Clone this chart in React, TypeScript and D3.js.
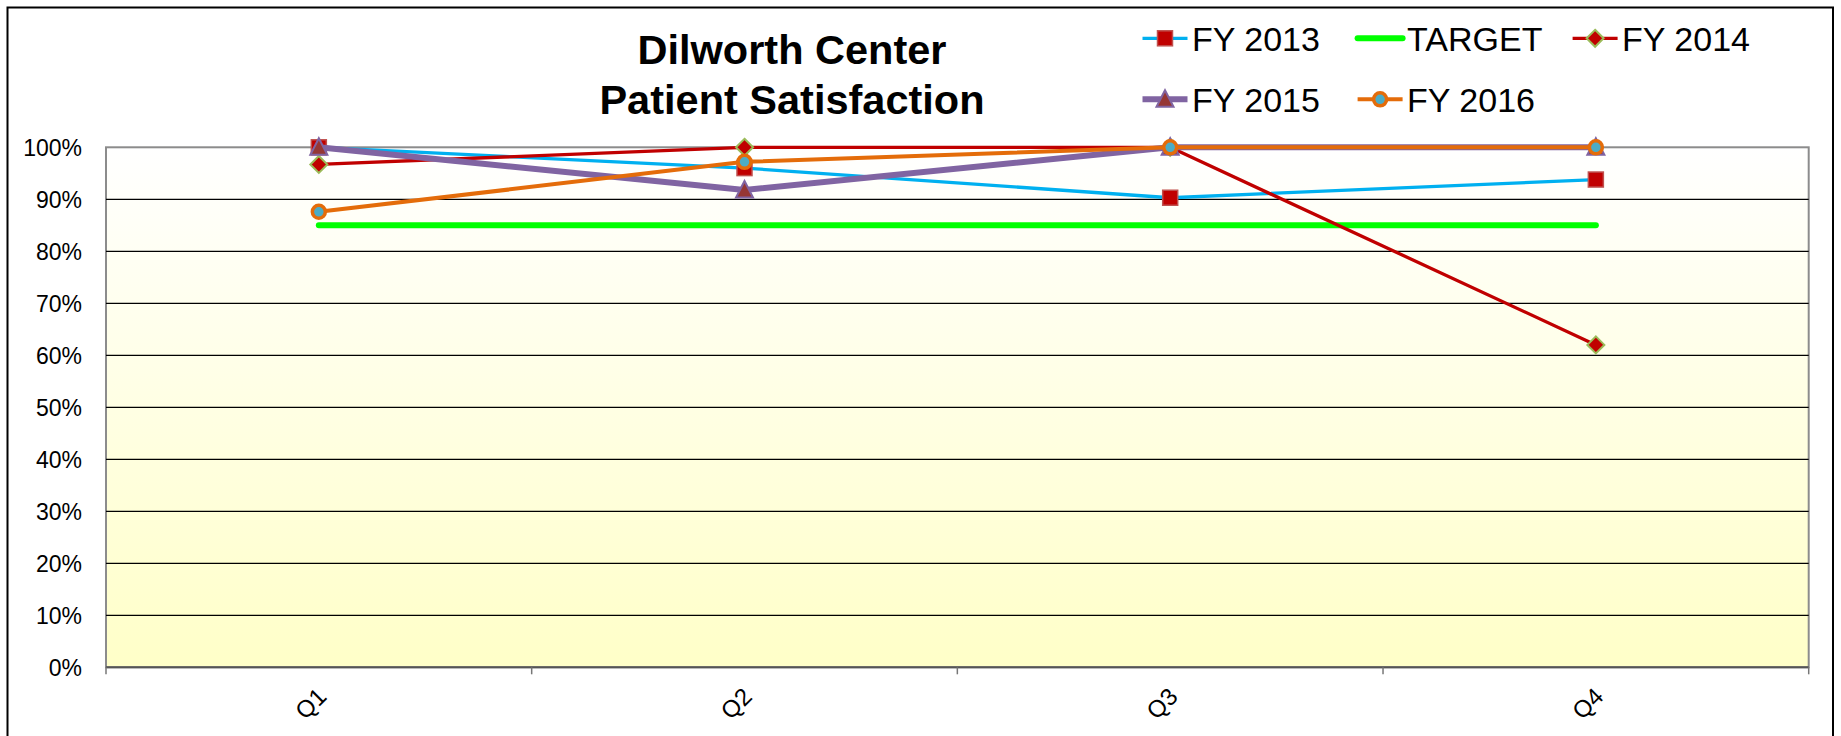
import React from "react";
import * as d3 from "d3";

const quarters = ["Q1", "Q2", "Q3", "Q4"];
const fy2013 = [1.0, 0.96, 0.903, 0.938];
const target = [0.85, 0.85, 0.85, 0.85];
const fy2014 = [0.967, 1.0, 1.0, 0.62];
const fy2015 = [1.0, 0.918, 1.0, 1.0];
const fy2016 = [0.876, 0.972, 1.0, 1.0];
const yTicks = [0, 0.1, 0.2, 0.3, 0.4, 0.5, 0.6, 0.7, 0.8, 0.9, 1.0];
const titleLines = ["Dilworth Center", "Patient Satisfaction"];

type MarkerKind = "square" | "diamond" | "triangle" | "circle" | "none";
interface Series {
  name: string;
  values: number[];
  color: string;
  width: number;
  marker: MarkerKind;
  mFill: string;
  mStroke: string;
  cap?: string;
}

const series: Series[] = [
  { name: "FY 2013", values: fy2013, color: "#00B0F0", width: 3.3, marker: "square", mFill: "#C00000", mStroke: "#C0504D" },
  { name: "TARGET", values: target, color: "#00FF00", width: 6, marker: "none", mFill: "none", mStroke: "none", cap: "round" },
  { name: "FY 2014", values: fy2014, color: "#C00000", width: 3.3, marker: "diamond", mFill: "#C00000", mStroke: "#9BBB59" },
  { name: "FY 2015", values: fy2015, color: "#8064A2", width: 6, marker: "triangle", mFill: "#953735", mStroke: "#8064A2" },
  { name: "FY 2016", values: fy2016, color: "#E46C0A", width: 4, marker: "circle", mFill: "#4BACC6", mStroke: "#E46C0A" },
];

const FONT = "'Liberation Sans', Arial, sans-serif";

function Marker({ kind, x, y, fill, stroke }: { kind: MarkerKind; x: number; y: number; fill: string; stroke: string }) {
  if (kind === "square") {
    return <rect x={x - 7.5} y={y - 7.5} width={15} height={15} fill={fill} stroke={stroke} strokeWidth={1.5} />;
  }
  if (kind === "diamond") {
    const r = 8.5;
    return <path d={`M${x},${y - r}L${x + r},${y}L${x},${y + r}L${x - r},${y}Z`} fill={fill} stroke={stroke} strokeWidth={2} />;
  }
  if (kind === "triangle") {
    return <path d={`M${x},${y - 9}L${x + 8.5},${y + 7.5}L${x - 8.5},${y + 7.5}Z`} fill={fill} stroke={stroke} strokeWidth={2} />;
  }
  if (kind === "circle") {
    return <circle cx={x} cy={y} r={6.5} fill={fill} stroke={stroke} strokeWidth={3.5} />;
  }
  return null;
}

export default function App() {
  const W = 1841;
  const H = 736;
  const left = 106;
  const right = 1808.7;
  const top = 147.3;
  const bottom = 667.3;

  const x = d3.scaleBand<string>().domain(quarters).range([left, right]).padding(0);
  const cx = (q: string) => (x(q) as number) + x.bandwidth() / 2;
  const y = d3.scaleLinear().domain([0, 1]).range([bottom, top]);
  const fmt = d3.format(".0%");
  const line = d3
    .line<number>()
    .x((_, i) => cx(quarters[i]))
    .y((v) => y(v));

  const boundaries = [...quarters.map((q) => x(q) as number), right];

  const legendCols = [1142.5, 1357.6, 1572.6];
  const legendRows = [38.3, 99.3];

  return (
    <svg
      width={W}
      height={H}
      style={{ position: "absolute", left: 0, top: 0, background: "#ffffff" }}
      fontFamily={FONT}
    >
      <defs>
        <linearGradient id="bg" x1="0" y1="0" x2="0" y2="1">
          <stop offset="0" stopColor="#FFFFFF" />
          <stop offset="1" stopColor="#FFFFC8" />
        </linearGradient>
      </defs>
      <rect x={7.5} y={7.5} width={1825.5} height={800} fill="#ffffff" stroke="#000" strokeWidth={2} />

      {/* plot area */}
      <rect x={left} y={top} width={right - left} height={bottom - top} fill="url(#bg)" stroke="#8C8C8C" strokeWidth={2} />
      {yTicks.map((t) =>
        t > 0 && t < 1 ? (
          <line key={"g" + t} x1={left} x2={right} y1={y(t)} y2={y(t)} stroke="#000" strokeWidth={1.2} />
        ) : null
      )}
      <line x1={left} x2={right} y1={bottom} y2={bottom} stroke="#555" strokeWidth={2} />
      {boundaries.map((b, i) => (
        <line key={"t" + i} x1={b} x2={b} y1={bottom} y2={bottom + 7} stroke="#777" strokeWidth={1.5} />
      ))}

      {/* y labels */}
      {yTicks.map((t) => (
        <text key={"yl" + t} x={82} y={y(t)} dy="0.36em" textAnchor="end" fontSize={23} fill="#000">
          {fmt(t)}
        </text>
      ))}

      {/* x labels */}
      {quarters.map((q) => (
        <text
          key={"xl" + q}
          transform={`translate(${cx(q) + 9},${698}) rotate(-45)`}
          textAnchor="end"
          fontSize={24}
          fill="#000"
        >
          {q}
        </text>
      ))}

      {/* series */}
      {series.map((s) => (
        <g key={s.name}>
          <path
            d={line(s.values) as string}
            fill="none"
            stroke={s.color}
            strokeWidth={s.width}
            strokeLinecap={(s.cap as any) || "butt"}
            strokeLinejoin="round"
          />
          {s.values.map((v, i) => (
            <Marker key={i} kind={s.marker} x={cx(quarters[i])} y={y(v)} fill={s.mFill} stroke={s.mStroke} />
          ))}
        </g>
      ))}

      {/* title */}
      {titleLines.map((t, i) => (
        <text key={t} x={792} y={64 + i * 50} textAnchor="middle" fontSize={41.5} fontWeight="bold" fill="#000">
          {t}
        </text>
      ))}

      {/* legend */}
      {series.map((s, i) => {
        const lx = legendCols[i % 3];
        const ly = legendRows[Math.floor(i / 3)];
        return (
          <g key={"lg" + s.name}>
            <line
              x1={lx}
              x2={lx + 45}
              y1={ly}
              y2={ly}
              stroke={s.color}
              strokeWidth={s.width}
              strokeLinecap={(s.cap as any) || "butt"}
            />
            <Marker kind={s.marker} x={lx + 22.5} y={ly} fill={s.mFill} stroke={s.mStroke} />
            <text x={lx + 49.5} y={ly} dy="0.36em" fontSize={34} fill="#000">
              {s.name}
            </text>
          </g>
        );
      })}
    </svg>
  );
}
